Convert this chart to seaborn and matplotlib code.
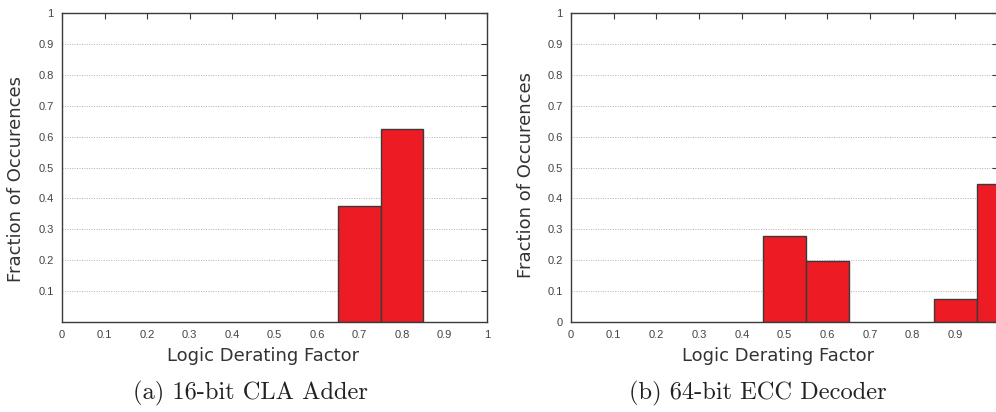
import numpy as np
import pandas as pd
import matplotlib
matplotlib.use("Agg")
import matplotlib.pyplot as plt
import seaborn as sns

sns.set_theme(style="white")
plt.rcParams['font.family'] = ['DejaVu Sans']

# Data (bin centres of the Logic Derating Factor histogram, fractions)
cla_centers = [0.7, 0.8]
cla_fractions = [0.375, 0.625]
ecc_centers = [0.5, 0.6, 0.9, 1.0]
ecc_fractions = [0.279, 0.199, 0.073, 0.447]

x_ticks = [0, 0.1, 0.2, 0.3, 0.4, 0.5, 0.6, 0.7, 0.8, 0.9, 1]
x_tick_labels_a = ["0", "0.1", "0.2", "0.3", "0.4", "0.5", "0.6", "0.7", "0.8", "0.9", "1"]
x_tick_labels_b = ["0", "0.1", "0.2", "0.3", "0.4", "0.5", "0.6", "0.7", "0.8", "0.9", ""]
y_ticks_a = [0.1, 0.2, 0.3, 0.4, 0.5, 0.6, 0.7, 0.8, 0.9, 1]
y_ticks_b = [0, 0.1, 0.2, 0.3, 0.4, 0.5, 0.6, 0.7, 0.8, 0.9, 1]
captions = ["(a) 16-bit CLA Adder", "(b) 64-bit ECC Decoder"]
xlabel = "Logic Derating Factor"
ylabel = "Fraction of Occurences"

bin_width = 0.1
red = "#ED1C24"
edge = "#3a3a3a"
tick_col = "#444444"

fig = plt.figure(figsize=(9.96, 4.12), dpi=100)
ax_a = fig.add_axes([62/996, 90/412, 425/996, 309/412])
ax_b = fig.add_axes([571/996, 90/412, 427/996, 309/412])

panels = [
    (ax_a, cla_centers, cla_fractions, x_tick_labels_a, y_ticks_a, captions[0],
     (0.474, -0.082), (-0.087, 0.464), 250 / 996),
    (ax_b, ecc_centers, ecc_fractions, x_tick_labels_b, y_ticks_b, captions[1],
     (0.485, -0.082), (-0.085, 0.477), 758 / 996),
]

for ax, centers, fracs, xtl, yt, cap, xlc, ylc, capx in panels:
    df = pd.DataFrame({"x": centers, "w": fracs})
    sns.histplot(data=df, x="x", weights="w", binwidth=bin_width,
                 binrange=(min(centers) - bin_width / 2, max(centers) + bin_width / 2),
                 ax=ax, color=red, alpha=1.0, edgecolor=edge, linewidth=1.0)
    # drop empty bins (zero-height bars)
    for p in list(ax.patches):
        if p.get_height() <= 1e-9:
            p.remove()
    ax.set_xlim(0, 1)
    ax.set_ylim(0, 1)
    ax.set_xticks(x_ticks)
    ax.set_xticklabels(xtl)
    ax.set_yticks(yt)
    ax.set_yticklabels(["%g" % v for v in yt])
    ax.tick_params(axis="both", direction="in", length=4, width=0.8,
                   colors=edge, labelcolor=tick_col, labelsize=8,
                   top=True, right=True, pad=6)
    for lab in ax.get_xticklabels() + ax.get_yticklabels():
        lab.set_family("Liberation Sans")
    ax.yaxis.grid(True, linestyle=(0, (1, 1.5)), color="#b0b0b0", linewidth=0.7)
    ax.xaxis.grid(False)
    ax.set_axisbelow(True)
    for sp in ax.spines.values():
        sp.set_color(edge)
        sp.set_linewidth(1.0)
    ax.set_xlabel(xlabel, fontsize=13, color="#333333")
    ax.set_ylabel(ylabel, fontsize=13, color="#333333")
    ax.xaxis.set_label_coords(*xlc)
    ax.yaxis.set_label_coords(*ylc)
    fig.text(capx, (412 - 393) / 412, cap, ha="center", va="center",
             fontsize=17.6, family="cmr10", color="#222222")

fig.savefig("out.png", dpi=100)
